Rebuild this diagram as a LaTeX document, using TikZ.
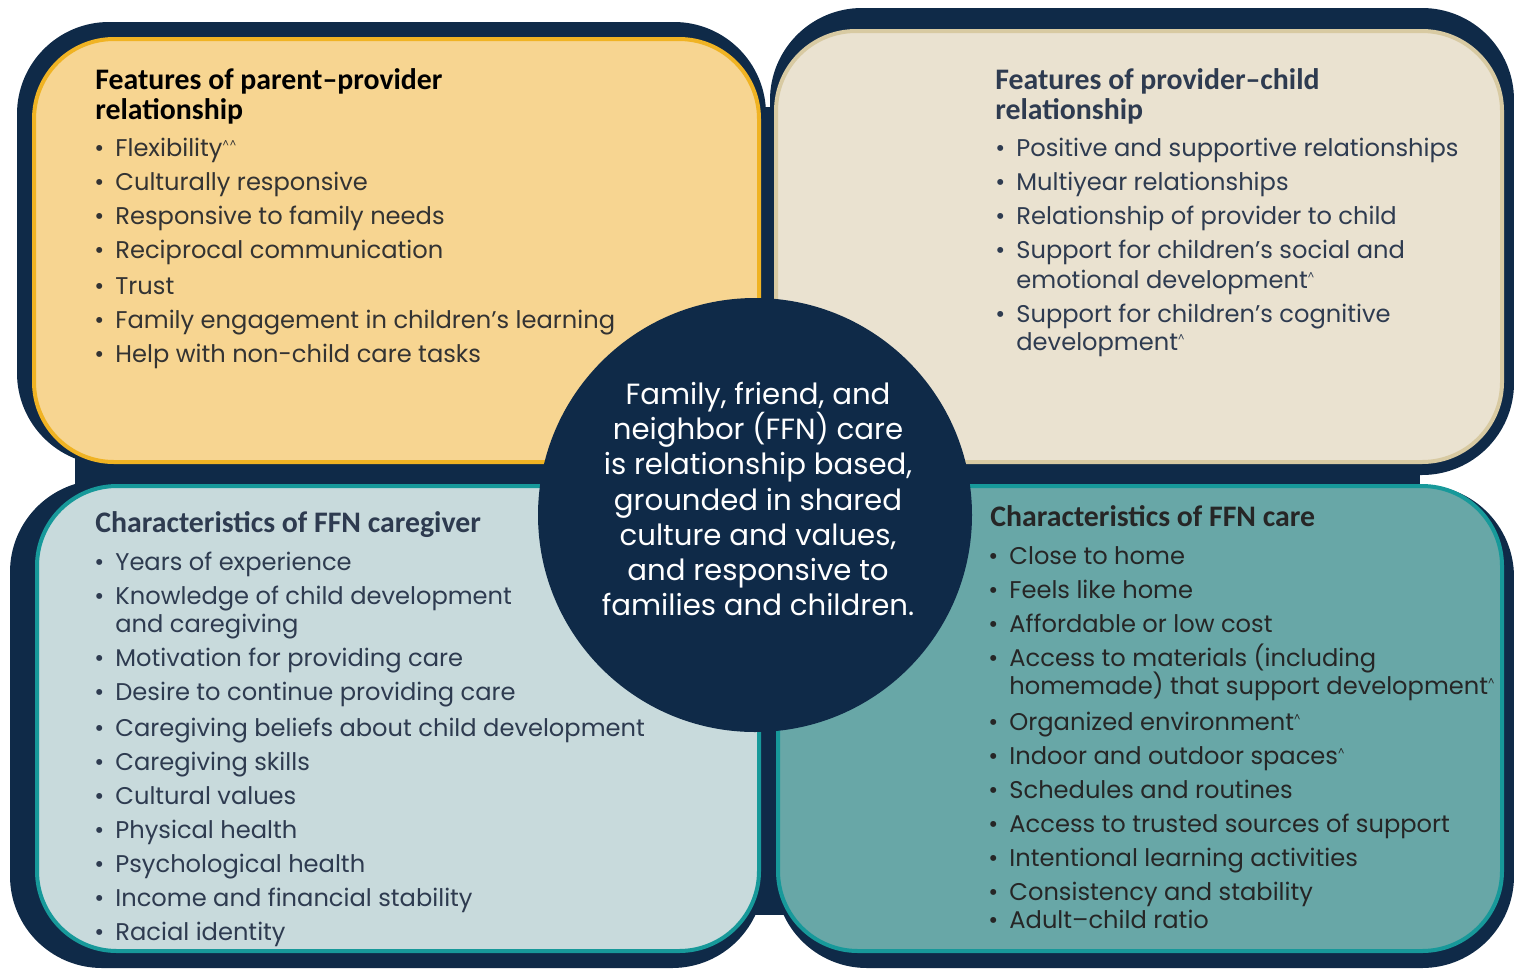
\documentclass[tikz,border=0pt]{standalone}
\usepackage{fontspec}
\setmainfont{Poppins}
\newfontfamily\headfam{Carlito}
\definecolor{navy}{HTML}{0F2A48}
\definecolor{yelfill}{HTML}{F7D591}
\definecolor{yelline}{HTML}{F0B323}
\definecolor{beifill}{HTML}{EAE2D0}
\definecolor{beiline}{HTML}{D8CAA2}
\definecolor{blufill}{HTML}{C8DADC}
\definecolor{tealline}{HTML}{17999A}
\definecolor{tealfill}{HTML}{68A7A7}
\definecolor{txtgrey}{HTML}{333333}
\definecolor{txtnavy}{HTML}{2E3B50}
\newcommand\bul{\llap{\textbullet\hspace{5.5pt}}}
\newcommand\crt{\textsuperscript{\tiny\textasciicircum}}
\begin{document}
\begin{tikzpicture}[x=0.5pt,y=-0.5pt,
  darkbg/.style={fill=navy, rounded corners=46pt},
  panel/.style={line width=2pt, rounded corners=40pt},
  item/.style={anchor=mid west, inner sep=0pt, yshift=-2pt, font=\fontsize{12.08}{14}\selectfont},
  head/.style={anchor=mid west, inner sep=0pt, yshift=-2pt, font=\headfam\bfseries\fontsize{14.9}{16}\selectfont},
]
\useasboundingbox (0,0) rectangle (1514,970);
% dark backdrop
\fill[navy] (75,107) rectangle (1420,915);
\fill[darkbg] (17,22) rectangle (766,465);
\fill[darkbg] (770,8) rectangle (1514,475);
\fill[darkbg] (10,480) rectangle (764,968);
\fill[darkbg] (775,485) rectangle (1514,968);
% panels
\draw[panel, fill=yelfill, draw=yelline] (34,39) rectangle (759,462);
\draw[panel, fill=beifill, draw=beiline] (776,31) rectangle (1502,462);
\draw[panel, fill=blufill, draw=tealline] (37,486) rectangle (759,951);
\draw[panel, fill=tealfill, draw=tealline] (778,486) rectangle (1502,951);
% hub
\node[circle, fill=navy, minimum size=217pt, inner sep=0pt] (hub) at (755,515) {};
\node[align=center, text=white, font=\fontsize{14.6}{17.6}\selectfont, inner sep=0pt] (hubtext) at (758,499)
 {Family, friend, and\\neighbor (FFN) care\\is relationship based,\\grounded in shared\\culture and values,\\and responsive to\\families and children.};
% top-left
\begin{scope}[every node/.append style={text=txtgrey}]
\node[head, text=black] (tlh1) at (95,80) {Features of parent–provider};
\node[head, text=black] (tlh2) at (95,110) {relationship};
\node[item] (tl1) at (115,147) {\bul Flexibility\crt\crt};
\node[item] (tl2) at (115,181) {\bul Culturally responsive};
\node[item] (tl3) at (115,215) {\bul Responsive to family needs};
\node[item] (tl4) at (115,249) {\bul Reciprocal communication};
\node[item] (tl5) at (115,285) {\bul Trust};
\node[item] (tl6) at (115,319) {\bul Family engagement in children’s learning};
\node[item] (tl7) at (115,353) {\bul Help with non-child care tasks};
\end{scope}
% top-right
\begin{scope}[every node/.append style={text=txtnavy}]
\node[head] (trh1) at (995,80) {Features of provider–child};
\node[head] (trh2) at (995,110) {relationship};
\node[item] (tr1) at (1016,147) {\bul Positive and supportive relationships};
\node[item] (tr2) at (1016,181) {\bul Multiyear relationships};
\node[item] (tr3) at (1016,215) {\bul Relationship of provider to child};
\node[item] (tr4) at (1016,249) {\bul Support for children’s social and};
\node[item] (tr4b) at (1016,279) {emotional development\crt};
\node[item] (tr5) at (1016,313) {\bul Support for children’s cognitive};
\node[item] (tr5b) at (1016,341) {development\crt};
\end{scope}
% bottom-left
\begin{scope}[every node/.append style={text=txtnavy}]
\node[head] (blh) at (95,523) {Characteristics of FFN caregiver};
\node[item] (bl1) at (115,561) {\bul Years of experience};
\node[item] (bl2) at (115,595) {\bul Knowledge of child development};
\node[item] (bl2b) at (115,623) {and caregiving};
\node[item] (bl3) at (115,657) {\bul Motivation for providing care};
\node[item] (bl4) at (115,691) {\bul Desire to continue providing care};
\node[item] (bl5) at (115,727) {\bul Caregiving beliefs about child development};
\node[item] (bl6) at (115,761) {\bul Caregiving skills};
\node[item] (bl7) at (115,795) {\bul Cultural values};
\node[item] (bl8) at (115,829) {\bul Physical health};
\node[item] (bl9) at (115,863) {\bul Psychological health};
\node[item] (bl10) at (115,897) {\bul Income and financial stability};
\node[item] (bl11) at (115,931) {\bul Racial identity};
\end{scope}
% bottom-right
\begin{scope}[every node/.append style={text=black!85}]
\node[head] (brh) at (990,517) {Characteristics of FFN care};
\node[item] (br1) at (1009,555) {\bul Close to home};
\node[item] (br2) at (1009,589) {\bul Feels like home};
\node[item] (br3) at (1009,623) {\bul Affordable or low cost};
\node[item] (br4) at (1009,657) {\bul Access to materials (including};
\node[item] (br4b) at (1009,685) {homemade) that support development\crt};
\node[item] (br5) at (1009,721) {\bul Organized environment\crt};
\node[item] (br6) at (1009,755) {\bul Indoor and outdoor spaces\crt};
\node[item] (br7) at (1009,789) {\bul Schedules and routines};
\node[item] (br8) at (1009,823) {\bul Access to trusted sources of support};
\node[item] (br9) at (1009,857) {\bul Intentional learning activities};
\node[item] (br10) at (1009,891) {\bul Consistency and stability};
\node[item] (br11) at (1009,919) {\bul Adult–child ratio};
\end{scope}
\end{tikzpicture}
\end{document}
